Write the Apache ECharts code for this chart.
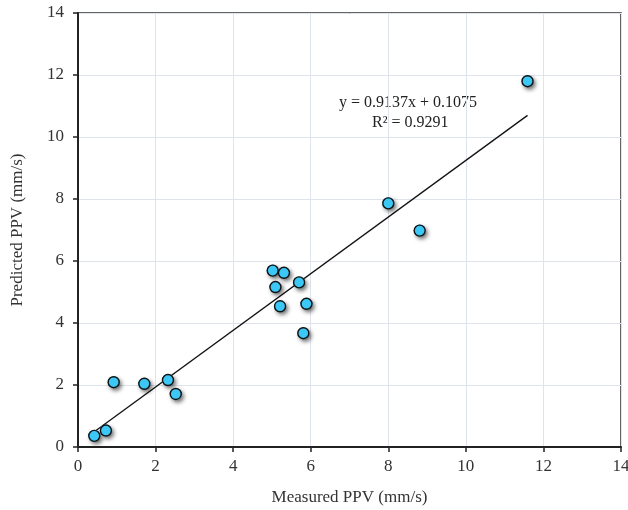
<!DOCTYPE html>
<html>
<head>
<meta charset="utf-8">
<script src="https://cdn.jsdelivr.net/npm/echarts@6/dist/echarts.min.js"></script>
<style>html,body{margin:0;padding:0;background:#fff}#c{width:628px;height:510px}</style>
</head>
<body>
<div id="c"></div>
<script>
var measured = [0.42, 0.72, 0.92, 1.71, 2.32, 2.52, 5.02, 5.31, 5.09, 5.21, 5.70, 5.89, 5.81, 8.00, 8.81, 11.59];
var predicted = [0.36, 0.53, 2.09, 2.04, 2.16, 1.71, 5.69, 5.62, 5.16, 4.54, 5.31, 4.62, 3.67, 7.86, 6.98, 11.80];
var slope = 0.9137, intercept = 0.1075, r2 = 0.9291;
var xTitle = 'Measured PPV (mm/s)';
var yTitle = 'Predicted PPV (mm/s)';

var pts = measured.map(function(x, i){ return [x, predicted[i]]; });
var xMin = Math.min.apply(null, measured), xMax = Math.max.apply(null, measured);
var trend = [[xMin, slope*xMin + intercept], [xMax, slope*xMax + intercept]];

var font = 'Liberation Serif';
var chart = echarts.init(document.getElementById('c'));
chart.setOption({
  animation: false,
  grid: {left: 78, right: 7, top: 13, bottom: 63, outerBoundsMode: 'none', containLabel: false,
    show: true, borderColor: '#333', borderWidth: 1.5, backgroundColor: 'transparent'},
  xAxis: {
    type: 'value', min: 0, max: 14, interval: 2,
    name: xTitle, nameLocation: 'middle', nameGap: 42,
    nameTextStyle: {fontFamily: font, fontSize: 17, color: '#333'},
    axisLine: {show: true, onZero: false, lineStyle: {color: '#222', width: 2}},
    axisTick: {show: true, length: 5, lineStyle: {color: '#222', width: 1.5}},
    axisLabel: {fontFamily: font, fontSize: 17, color: '#333', margin: 11},
    splitLine: {show: true, lineStyle: {color: '#dfe3ec', width: 1}}
  },
  yAxis: {
    type: 'value', min: 0, max: 14, interval: 2,
    name: yTitle, nameLocation: 'middle', nameGap: 52, nameRotate: 90,
    nameTextStyle: {fontFamily: font, fontSize: 17, color: '#333'},
    axisLine: {show: true, onZero: false, lineStyle: {color: '#222', width: 2}},
    axisTick: {show: true, length: 5, lineStyle: {color: '#222', width: 1.5}},
    axisLabel: {fontFamily: font, fontSize: 17, color: '#333', margin: 14},
    splitLine: {show: true, lineStyle: {color: '#dfe3ec', width: 1}}
  },
  series: [
    {
      type: 'line', data: trend, symbol: 'none', silent: true,
      lineStyle: {color: '#111', width: 1.3}, z: 2
    },
    {
      type: 'scatter', data: pts, symbol: 'circle', symbolSize: 12, z: 3, silent: true,
      itemStyle: {color: '#3cc8f6', opacity: 1, borderWidth: 0,
        shadowColor: 'rgba(0,0,0,0.6)', shadowBlur: 4, shadowOffsetX: 2, shadowOffsetY: 2.5}
    },
    {
      type: 'scatter', data: pts, symbol: 'circle', symbolSize: 11, z: 4,
      itemStyle: {color: '#3cc8f6', opacity: 1, borderColor: '#111', borderWidth: 1.4}
    }
  ],
  graphic: [
    {type: 'text', left: 339, top: 95, style: {text: 'y = ' + slope + 'x + ' + intercept, fontFamily: font, fontSize: 16, fill: '#222'}},
    {type: 'text', left: 372, top: 115, style: {text: 'R\u00b2 = ' + r2, fontFamily: font, fontSize: 16, fill: '#222'}}
  ]
});
</script>
</body>
</html>
